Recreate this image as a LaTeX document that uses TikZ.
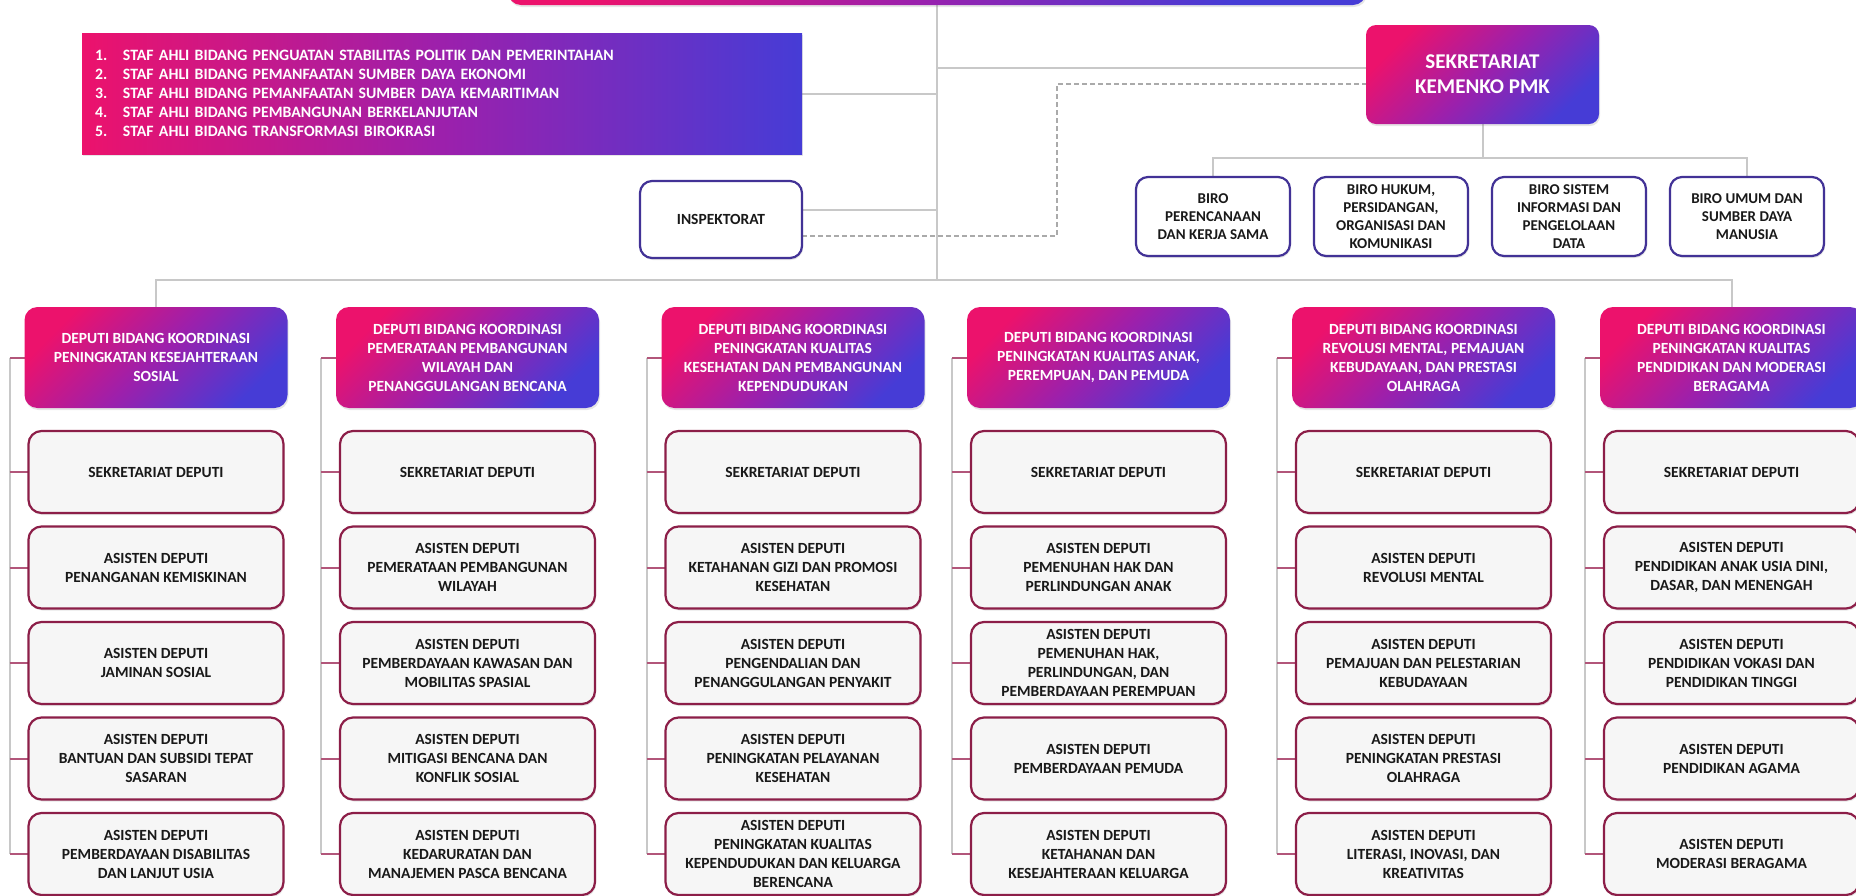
\documentclass[tikz,border=0pt]{standalone}
\usepackage{fontspec}
\setmainfont{Carlito}
\usetikzlibrary{%
    backgrounds,
    calc,
    positioning,
    shadows
}
\definecolor{pinkA}{RGB}{236,18,108}
\definecolor{violetA}{RGB}{156,32,172}
\definecolor{blueA}{RGB}{70,60,214}
\definecolor{lineA}{RGB}{200,200,200}
\definecolor{stubA}{RGB}{178,86,122}
\definecolor{maroonA}{RGB}{140,30,72}
\definecolor{indigoA}{RGB}{66,50,150}
\definecolor{paperA}{RGB}{246,246,246}
\definecolor{inkA}{RGB}{25,25,25}

\tikzset{link/.style = {draw=lineA, line width=2pt}}
\tikzset{dashlink/.style = {draw=lineA!85!black, line width=1.6pt, dash pattern=on 5pt off 3pt}}
\tikzset{stublink/.style = {draw=stubA, line width=2pt}}
\tikzset{gradbox/.style = {rectangle, rounded corners=13pt, outer sep=0pt,
    top color=pinkA, bottom color=blueA, middle color=violetA, shading angle=45,
    text=white, align=center, inner sep=2pt,
    font=\bfseries\fontsize{15.5}{19}\selectfont,
    drop shadow={opacity=0.2, shadow xshift=1pt, shadow yshift=-2pt}}}
\tikzset{depbox/.style = {gradbox, minimum width=263pt, minimum height=101pt}}
\tikzset{unitbox/.style = {rectangle, rounded corners=13pt, draw=maroonA, line width=2.2pt,
    outer sep=0pt, fill=paperA, text=inkA, align=center, inner sep=2pt,
    minimum width=255pt, minimum height=82pt,
    font=\bfseries\fontsize{15.5}{19}\selectfont,
    drop shadow={opacity=0.2, shadow xshift=1pt, shadow yshift=-2pt}}}
\tikzset{birobox/.style = {rectangle, rounded corners=12pt, draw=indigoA, line width=2.2pt,
    outer sep=0pt, fill=white, text=inkA, align=center, inner sep=2pt,
    minimum width=154pt, minimum height=79pt,
    font=\bfseries\fontsize{15}{18}\selectfont,
    drop shadow={opacity=0.2, shadow xshift=1pt, shadow yshift=-2pt}}}

\begin{document}
\begin{tikzpicture}[x=1pt,y=1pt]
    \useasboundingbox (0,0) rectangle (1856,-895);

    \node[gradbox, minimum width=858pt, minimum height=60pt] (menko) at (937,25) {};
    \coordinate (bus) at (menko.south |- 0,-280);

    \node[gradbox, sharp corners, left color=pinkA, right color=blueA, middle color=violetA,
        text width=694pt, inner xsep=13pt, minimum height=121pt, align=left,
        font=\bfseries\fontsize{15.8}{19}\selectfont] (staf) at (442,-93.5) {%
        \makebox[28pt][l]{1.}STAF AHLI BIDANG PENGUATAN STABILITAS POLITIK DAN PEMERINTAHAN\\
        \makebox[28pt][l]{2.}STAF AHLI BIDANG PEMANFAATAN SUMBER DAYA EKONOMI\\
        \makebox[28pt][l]{3.}STAF AHLI BIDANG PEMANFAATAN SUMBER DAYA KEMARITIMAN\\
        \makebox[28pt][l]{4.}STAF AHLI BIDANG PEMBANGUNAN BERKELANJUTAN\\
        \makebox[28pt][l]{5.}STAF AHLI BIDANG TRANSFORMASI BIROKRASI};

    \node[gradbox, rounded corners=10pt, minimum width=233pt, minimum height=99pt,
        font=\bfseries\fontsize{21}{25}\selectfont] (sek) at (1482.5,-74.5) {SEKRETARIAT\\KEMENKO PMK};

    \node[birobox, minimum width=162pt, minimum height=77pt,
        font=\bfseries\fontsize{15.5}{19}\selectfont] (insp) at (721,-219.5) {INSPEKTORAT};

    \node[birobox] (biro1) at (1213,-216.5) {BIRO\\PERENCANAAN\\DAN KERJA SAMA};
    \foreach \n/\Label [remember=\n as \lastn (initially 1)] in {%
        2/{BIRO HUKUM,\\PERSIDANGAN,\\ORGANISASI DAN\\KOMUNIKASI},
        3/{BIRO SISTEM\\INFORMASI DAN\\PENGELOLAAN\\DATA},
        4/{BIRO UMUM DAN\\SUMBER DAYA\\MANUSIA}%
        }
        \node[birobox, right=24pt of biro\lastn] (biro\n) {\Label};

    \foreach \i/\x/\Label in {%
        1/156/{DEPUTI BIDANG KOORDINASI\\PENINGKATAN KESEJAHTERAAN\\SOSIAL},
        2/467.5/{DEPUTI BIDANG KOORDINASI\\PEMERATAAN PEMBANGUNAN\\WILAYAH DAN\\PENANGGULANGAN BENCANA},
        3/793/{DEPUTI BIDANG KOORDINASI\\PENINGKATAN KUALITAS\\KESEHATAN DAN PEMBANGUNAN\\KEPENDUDUKAN},
        4/1098.5/{DEPUTI BIDANG KOORDINASI\\PENINGKATAN KUALITAS ANAK,\\PEREMPUAN, DAN PEMUDA},
        5/1423.5/{DEPUTI BIDANG KOORDINASI\\REVOLUSI MENTAL, PEMAJUAN\\KEBUDAYAAN, DAN PRESTASI\\OLAHRAGA},
        6/1731.5/{DEPUTI BIDANG KOORDINASI\\PENINGKATAN KUALITAS\\PENDIDIKAN DAN MODERASI\\BERAGAMA}%
        }
    {
        \node[depbox] (dep\i) at (\x,-357.5) {\Label};
        \node[unitbox, below=23pt of dep\i] (a\i0) {SEKRETARIAT DEPUTI};
    }

    \foreach \r/\Label [remember=\r as \lastr (initially 0)] in {%
        1/{PENANGANAN KEMISKINAN},
        2/{JAMINAN SOSIAL},
        3/{BANTUAN DAN SUBSIDI TEPAT\\SASARAN},
        4/{PEMBERDAYAAN DISABILITAS\\DAN LANJUT USIA}%
        }
        \node[unitbox, below=13.5pt of a1\lastr] (a1\r) {ASISTEN DEPUTI\\\Label};
    \foreach \r/\Label [remember=\r as \lastr (initially 0)] in {%
        1/{PEMERATAAN PEMBANGUNAN\\WILAYAH},
        2/{PEMBERDAYAAN KAWASAN DAN\\MOBILITAS SPASIAL},
        3/{MITIGASI BENCANA DAN\\KONFLIK SOSIAL},
        4/{KEDARURATAN DAN\\MANAJEMEN PASCA BENCANA}%
        }
        \node[unitbox, below=13.5pt of a2\lastr] (a2\r) {ASISTEN DEPUTI\\\Label};
    \foreach \r/\Label [remember=\r as \lastr (initially 0)] in {%
        1/{KETAHANAN GIZI DAN PROMOSI\\KESEHATAN},
        2/{PENGENDALIAN DAN\\PENANGGULANGAN PENYAKIT},
        3/{PENINGKATAN PELAYANAN\\KESEHATAN},
        4/{PENINGKATAN KUALITAS\\KEPENDUDUKAN DAN KELUARGA\\BERENCANA}%
        }
        \node[unitbox, below=13.5pt of a3\lastr] (a3\r) {ASISTEN DEPUTI\\\Label};
    \foreach \r/\Label [remember=\r as \lastr (initially 0)] in {%
        1/{PEMENUHAN HAK DAN\\PERLINDUNGAN ANAK},
        2/{PEMENUHAN HAK,\\PERLINDUNGAN, DAN\\PEMBERDAYAAN PEREMPUAN},
        3/{PEMBERDAYAAN PEMUDA},
        4/{KETAHANAN DAN\\KESEJAHTERAAN KELUARGA}%
        }
        \node[unitbox, below=13.5pt of a4\lastr] (a4\r) {ASISTEN DEPUTI\\\Label};
    \foreach \r/\Label [remember=\r as \lastr (initially 0)] in {%
        1/{REVOLUSI MENTAL},
        2/{PEMAJUAN DAN PELESTARIAN\\KEBUDAYAAN},
        3/{PENINGKATAN PRESTASI\\OLAHRAGA},
        4/{LITERASI, INOVASI, DAN\\KREATIVITAS}%
        }
        \node[unitbox, below=13.5pt of a5\lastr] (a5\r) {ASISTEN DEPUTI\\\Label};
    \foreach \r/\Label [remember=\r as \lastr (initially 0)] in {%
        1/{PENDIDIKAN ANAK USIA DINI,\\DASAR, DAN MENENGAH},
        2/{PENDIDIKAN VOKASI DAN\\PENDIDIKAN TINGGI},
        3/{PENDIDIKAN AGAMA},
        4/{MODERASI BERAGAMA}%
        }
        \node[unitbox, below=13.5pt of a6\lastr] (a6\r) {ASISTEN DEPUTI\\\Label};

    \begin{scope}[on background layer]
    \draw[link] (menko.south) -- (bus);
    \draw[link] (dep1.north) |- (bus) -| (dep6.north);
    \draw[link] (staf.east) -- (staf.east -| bus);
    \coordinate (sekin) at ([yshift=6.5pt]sek.west);
    \draw[link] (sekin) -- (sekin -| bus);
    \coordinate (inspin) at ([yshift=9.5pt]insp.east);
    \draw[link] (inspin) -- (inspin -| bus);
    \draw[dashlink] ([yshift=-16.5pt]insp.east) -- ++(255,0) |- ([yshift=-9.5pt]sek.west);
    \draw[link] (sek.south) -- ++(0,-34) coordinate (birobus);
    \draw[link] (biro1.north) |- (birobus) -| (biro4.north);

    \foreach \i in {1,...,6} {
        \draw[link] (dep\i.west) ++(-15,0) coordinate (col\i) -- (col\i |- a\i4.west);
        \draw[stublink] (col\i) -- (dep\i.west);
        \foreach \r in {0,...,4}
            \draw[stublink] (col\i |- a\i\r.west) -- (a\i\r.west);
    }
    \end{scope}
\end{tikzpicture}
\end{document}
